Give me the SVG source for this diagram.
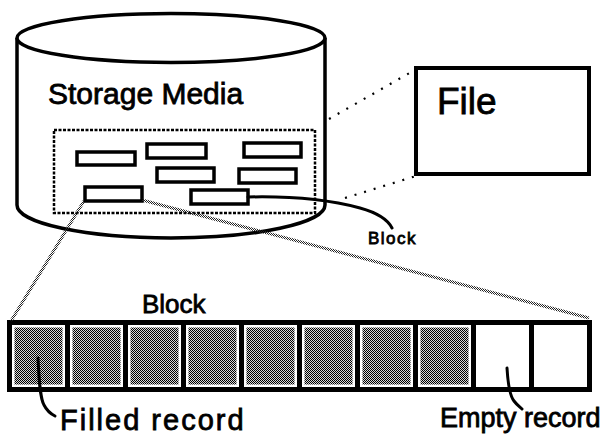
<svg xmlns="http://www.w3.org/2000/svg" width="602" height="444" viewBox="0 0 602 444">
  <defs>
    <pattern id="dither" width="2" height="2" patternUnits="userSpaceOnUse">
      <rect width="2" height="2" fill="#d8d8d8"/>
      <rect x="0" y="0" width="1" height="1" fill="#000"/>
      <rect x="1" y="1" width="1" height="1" fill="#000"/>
    </pattern>
    <pattern id="ditherLine" width="2" height="2" patternUnits="userSpaceOnUse">
      <rect x="0" y="0" width="1" height="1" fill="#222"/>
      <rect x="1" y="1" width="1" height="1" fill="#222"/>
    </pattern>
  </defs>
  <style>
    .ink { fill: none; stroke: #000; stroke-linecap: round; stroke-linejoin: round; }
    .lbl { font-family: "Liberation Sans", Arial, Helvetica, sans-serif; fill: #000; }
    .med { stroke: #000; stroke-width: 0.8; }
    .rec { fill: #fff; stroke: #000; stroke-width: 3.5; }
    .dots { fill: none; stroke: #000; stroke-width: 2.2; stroke-dasharray: 2 8; stroke-linecap: butt; }
    .grey { fill: none; stroke: url(#ditherLine); stroke-width: 3; }
  </style>

  <!-- storage media cylinder -->
  <g id="storage-media">
    <path d="M17,38 L17,205 A154,33 0 0 0 325,205 L325,38" fill="#fff" stroke="#000" stroke-width="3.5"/>
    <ellipse cx="171" cy="38" rx="154" ry="24.5" fill="#fff" stroke="#000" stroke-width="3.5"/>
    <text class="lbl med" x="48" y="104" font-size="30">Storage Media</text>
    <!-- dashed outline of the file area -->
    <rect x="54" y="130" width="261" height="83" fill="none" stroke="#000" stroke-width="2.5" stroke-dasharray="3 1.5"/>
    <!-- blocks on the medium -->
    <rect class="rec" x="77" y="152" width="58" height="13"/>
    <rect class="rec" x="147" y="144" width="59" height="14"/>
    <rect class="rec" x="244" y="143" width="57" height="14"/>
    <rect class="rec" x="157" y="168" width="57" height="14"/>
    <rect class="rec" x="239" y="169" width="57" height="14"/>
    <rect class="rec" x="85" y="187" width="57" height="14"/>
    <rect class="rec" x="191" y="190" width="57" height="14"/>
  </g>

  <!-- file box -->
  <g id="file">
    <rect x="416" y="68" width="173" height="106" fill="#fff" stroke="#000" stroke-width="4"/>
    <text class="lbl med" x="437" y="114" font-size="37">File</text>
  </g>

  <!-- block of records -->
  <g id="block">
    <text class="lbl med" x="142" y="313" font-size="26">Block</text>
    <rect x="7" y="320" width="585" height="72" fill="#000"/>
    <g fill="#fff">
      <rect x="12" y="325" width="53" height="62"/>
      <rect x="70" y="325" width="53" height="62"/>
      <rect x="128" y="325" width="53" height="62"/>
      <rect x="186" y="325" width="53" height="62"/>
      <rect x="244" y="325" width="53" height="62"/>
      <rect x="302" y="325" width="53" height="62"/>
      <rect x="360" y="325" width="53" height="62"/>
      <rect x="418" y="325" width="53" height="62"/>
      <rect x="476" y="325" width="53" height="62"/>
      <rect x="534" y="325" width="53" height="62"/>
    </g>
    <g fill="url(#dither)">
      <rect x="14.5" y="327.5" width="48" height="57"/>
      <rect x="72.5" y="327.5" width="48" height="57"/>
      <rect x="130.5" y="327.5" width="48" height="57"/>
      <rect x="188.5" y="327.5" width="48" height="57"/>
      <rect x="246.5" y="327.5" width="48" height="57"/>
      <rect x="304.5" y="327.5" width="48" height="57"/>
      <rect x="362.5" y="327.5" width="48" height="57"/>
      <rect x="420.5" y="327.5" width="48" height="57"/>
    </g>
  </g>

  <g id="filled-record-label">
    <text class="lbl med" x="60" y="430" font-size="29" letter-spacing="2">Filled record</text>
  </g>
  <g id="empty-record-label">
    <text class="lbl med" x="440" y="427" font-size="27">Empty record</text>
  </g>
  <g id="block-label">
    <text class="lbl med" x="368" y="244" font-size="17" stroke-width="0.6" letter-spacing="1.5">Block</text>
  </g>

  <!-- connectors -->
  <g id="connectors">
    <!-- projection of the medium area onto the file -->
    <line class="dots" x1="329" y1="119" x2="413" y2="71"/>
    <line class="dots" x1="345" y1="198" x2="416" y2="176"/>
    <!-- zoom lines from a block to the record layout -->
    <line class="grey" x1="84" y1="201" x2="11" y2="321"/>
    <line class="grey" x1="142" y1="200" x2="589" y2="318"/>
    <!-- pointer from a block to its label -->
    <path class="ink" stroke-width="3" d="M248,197 C290,196 330,200 360,208 C378,213 388,220 392,228"/>
    <!-- record pointers -->
    <path class="ink" stroke-width="3" d="M38,358 C39,380 40,398 44,405 C47,411 51,414 55,416"/>
    <path class="ink" stroke-width="3" d="M507,368 C508,385 510,396 514,401 C517,405 520,407 522,409"/>
  </g>
</svg>
